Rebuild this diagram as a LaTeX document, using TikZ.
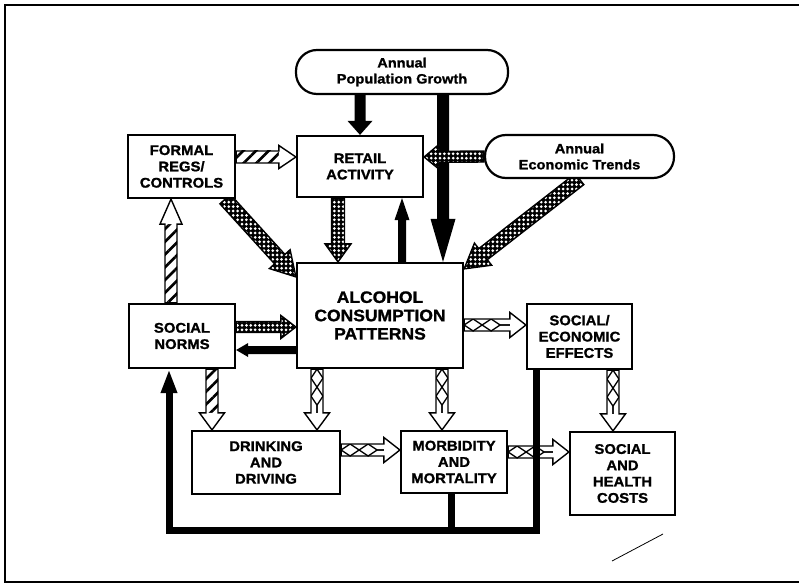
\documentclass[tikz,border=0pt]{standalone}
\usepackage{fontspec}
\newfontfamily\boxfont{Liberation Sans}[FakeStretch=1.06, FakeBold=1.2]
\newfontfamily\pillfont{Liberation Sans}[FakeStretch=1.08, FakeBold=1.2]
\usetikzlibrary{calc,patterns.meta,decorations.pathmorphing,arrows.meta}

\pgfdeclarelayer{bg}
\pgfsetlayers{bg,main}

\tikzset{
  box/.style={draw, line width=2.2pt, fill=white, inner sep=0pt, align=center,
    font=\boxfont\bfseries\fontsize{14pt}{16.3pt}\selectfont},
  bigbox/.style={box, font=\boxfont\bfseries\fontsize{16.5pt}{18.3pt}\selectfont},
  pill/.style={box, rounded corners=21pt,
    font=\pillfont\bfseries\fontsize{13.5pt}{16pt}\selectfont},
  arrowline/.style={draw, line width=1.4pt, line join=miter},
  dotfill/.style={preaction={fill=black}, pattern={Dots[radius=1.5pt, distance=4.4pt]},
    pattern color=white},
  hatchfill/.style={preaction={fill=white}, pattern={Lines[angle=45, distance=9pt, line width=2.6pt]},
    pattern color=black},
  xline/.style={decorate, line width=1.3pt},
  feedback/.style={line width=7pt, line join=miter},
}

% corner points of a broad arrow from #1 to #2:
% #3 half shaft width, #4 half head width, #5 head length
\newcommand\faprep[5]{%
  \coordinate (fa-a) at (#1);
  \coordinate (fa-b) at (#2);
  \coordinate (fa-h) at ($(fa-b)!#5!(fa-a)$);
  \coordinate (fa-s1) at ($(fa-a)!#3!90:(fa-b)$);
  \coordinate (fa-s2) at ($(fa-a)!#3!-90:(fa-b)$);
  \coordinate (fa-e1) at ($(fa-h)!#3!90:(fa-b)$);
  \coordinate (fa-e2) at ($(fa-h)!#3!-90:(fa-b)$);
  \coordinate (fa-h1) at ($(fa-h)!#4!90:(fa-b)$);
  \coordinate (fa-h2) at ($(fa-h)!#4!-90:(fa-b)$);
}

% solid black arrow
\newcommand\solidarrow[5]{\faprep{#1}{#2}{#3}{#4}{#5}%
  \fill[black] (fa-s1) -- (fa-e1) -- (fa-h1) -- (fa-b) -- (fa-h2) -- (fa-e2) -- (fa-s2) -- cycle;}

% arrow filled with the dotted screen
\newcommand\dotarrow[5]{\faprep{#1}{#2}{#3}{#4}{#5}%
  \path[dotfill] (fa-s1) -- (fa-e1) -- (fa-h1) -- (fa-b) -- (fa-h2) -- (fa-e2) -- (fa-s2) -- cycle;
  \draw[arrowline] (fa-s1) -- (fa-e1) -- (fa-h1) -- (fa-b) -- (fa-h2) -- (fa-e2) -- (fa-s2) -- cycle;}

% arrow with a striped shaft and an open head
\newcommand\hatcharrow[5]{\faprep{#1}{#2}{#3}{#4}{#5}%
  \path[hatchfill] (fa-s1) -- (fa-e1) -- (fa-e2) -- (fa-s2) -- cycle;
  \fill[white] (fa-e1) -- (fa-h1) -- (fa-b) -- (fa-h2) -- (fa-e2) -- cycle;
  \draw[arrowline] (fa-s1) -- (fa-e1) -- (fa-h1) -- (fa-b) -- (fa-h2) -- (fa-e2) -- (fa-s2) -- cycle;}

% arrow with a criss-cross shaft and an open head
\newcommand\crossarrow[5]{\faprep{#1}{#2}{#3}{#4}{#5}%
  \fill[white] (fa-s1) -- (fa-e1) -- (fa-h1) -- (fa-b) -- (fa-h2) -- (fa-e2) -- (fa-s2) -- cycle;
  \begin{scope}
    \clip (fa-s1) -- (fa-e1) -- (fa-e2) -- (fa-s2) -- cycle;
    \draw[xline, decoration={zigzag, segment length=36pt, amplitude=#3}] (fa-a) -- (fa-h);
    \draw[xline, decoration={zigzag, segment length=36pt, amplitude=#3, mirror}] (fa-a) -- (fa-h);
  \end{scope}
  \draw[arrowline] (fa-s1) -- (fa-e1) -- (fa-h1) -- (fa-b) -- (fa-h2) -- (fa-e2) -- (fa-s2) -- cycle;}

\begin{document}
\begin{tikzpicture}[x=1pt, y=-1pt]
  \useasboundingbox (0,0) rectangle (799,585);

  % frame
  \draw[line width=2pt] (799,5) -- (5,5) -- (5,582) -- (799,582);
  \draw[line width=0.8pt] (612,561) -- (663,534);

  % boxes
  \node[pill, minimum width=212pt, minimum height=44pt] (pop) at (402,72) {Annual\\Population Growth};
  \node[pill, minimum width=189pt, minimum height=43pt] (econ) at (579.5,156.5) {Annual\\Economic Trends};
  \node[box, minimum width=107pt, minimum height=63pt] (formal) at (181.5,166.5) {FORMAL\\REGS/\\CONTROLS};
  \node[box, minimum width=126pt, minimum height=61pt] (retail) at (360,166.5) {RETAIL\\ACTIVITY};
  \node[bigbox, minimum width=166pt, minimum height=105pt] (alcohol) at (380,315.5) {ALCOHOL\\CONSUMPTION\\PATTERNS};
  \node[box, minimum width=106pt, minimum height=64pt] (sn) at (182,336) {SOCIAL\\NORMS};
  \node[box, minimum width=105pt, minimum height=65pt] (see) at (579.5,336.5) {SOCIAL/\\ECONOMIC\\EFFECTS};
  \node[box, minimum width=148pt, minimum height=63pt] (drink) at (266,462.5) {DRINKING\\AND\\DRIVING};
  \node[box, minimum width=106pt, minimum height=62pt] (morb) at (454,462) {MORBIDITY\\AND\\MORTALITY};
  \node[box, minimum width=105pt, minimum height=83pt] (shc) at (622.5,473.5) {SOCIAL\\AND\\HEALTH\\COSTS};

  \begin{pgfonlayer}{bg}
    % population growth
    \solidarrow{pop.south -| retail.north}{retail.north}{5.5pt}{12.5pt}{14pt}
    \solidarrow{[xshift=41pt]pop.south}{[xshift=63pt]alcohol.north}{6pt}{12.5pt}{43pt}
    % dotted links
    \dotarrow{[xshift=-22pt]retail.south}{[xshift=-42pt]alcohol.north}{6.5pt}{13pt}{18pt}
    \dotarrow{econ.west}{[yshift=9.5pt]retail.east}{5.5pt}{12.5pt}{15pt}
    \dotarrow{[xshift=-11pt]formal.south east}{[yshift=-15pt]alcohol.north west}{7pt}{14pt}{24pt}
    \dotarrow{econ.south}{[yshift=-7pt]alcohol.north east}{7pt}{14pt}{24pt}
    \dotarrow{[yshift=9pt]sn.east}{[yshift=-11.5pt]alcohol.west}{5.5pt}{11.5pt}{15pt}
    % striped links
    \hatcharrow{[yshift=9.5pt]formal.east}{[yshift=9.5pt]retail.west}{6pt}{11.5pt}{17pt}
    \hatcharrow{[xshift=-11pt]sn.north}{[xshift=-10.5pt]formal.south}{6pt}{11pt}{25pt}
    \hatcharrow{[xshift=30pt]sn.south}{[xshift=-54pt]drink.north}{6pt}{12.5pt}{17pt}
    % criss-cross links
    \crossarrow{[yshift=-9.5pt]alcohol.east}{[yshift=11.5pt]see.west}{6pt}{12.5pt}{16pt}
    \crossarrow{[xshift=-63pt]alcohol.south}{[xshift=51pt]drink.north}{6pt}{12.5pt}{17pt}
    \crossarrow{[xshift=62pt]alcohol.south}{[xshift=-12pt]morb.north}{6pt}{12.5pt}{17pt}
    \crossarrow{[yshift=12.5pt]drink.east}{[yshift=12pt]morb.west}{6pt}{12.5pt}{16pt}
    \crossarrow{[yshift=10pt]morb.east}{[yshift=21.5pt]shc.west}{6pt}{12.5pt}{16pt}
    \crossarrow{[xshift=33.5pt]see.south}{[xshift=-9.5pt]shc.north}{6pt}{12.5pt}{17pt}
    % solid feedback arrows
    \solidarrow{[xshift=22pt]alcohol.north}{[xshift=42pt]retail.south}{4pt}{7.5pt}{22pt}
    \solidarrow{[yshift=-34.5pt]alcohol.west}{[yshift=-14pt]sn.east}{4pt}{7pt}{12pt}
  \end{pgfonlayer}

  % feedback loop back to social norms
  \coordinate (fb) at (169,530);
  \coordinate (mb) at ([xshift=-3pt]morb.south);
  \draw[feedback, -{Triangle[length=24pt, width=15pt]}] ([xshift=-43.5pt]see.south) |- (fb) -- ([xshift=-13pt]sn.south);
  \draw[feedback] (mb) -- (mb |- fb);
\end{tikzpicture}
\end{document}
